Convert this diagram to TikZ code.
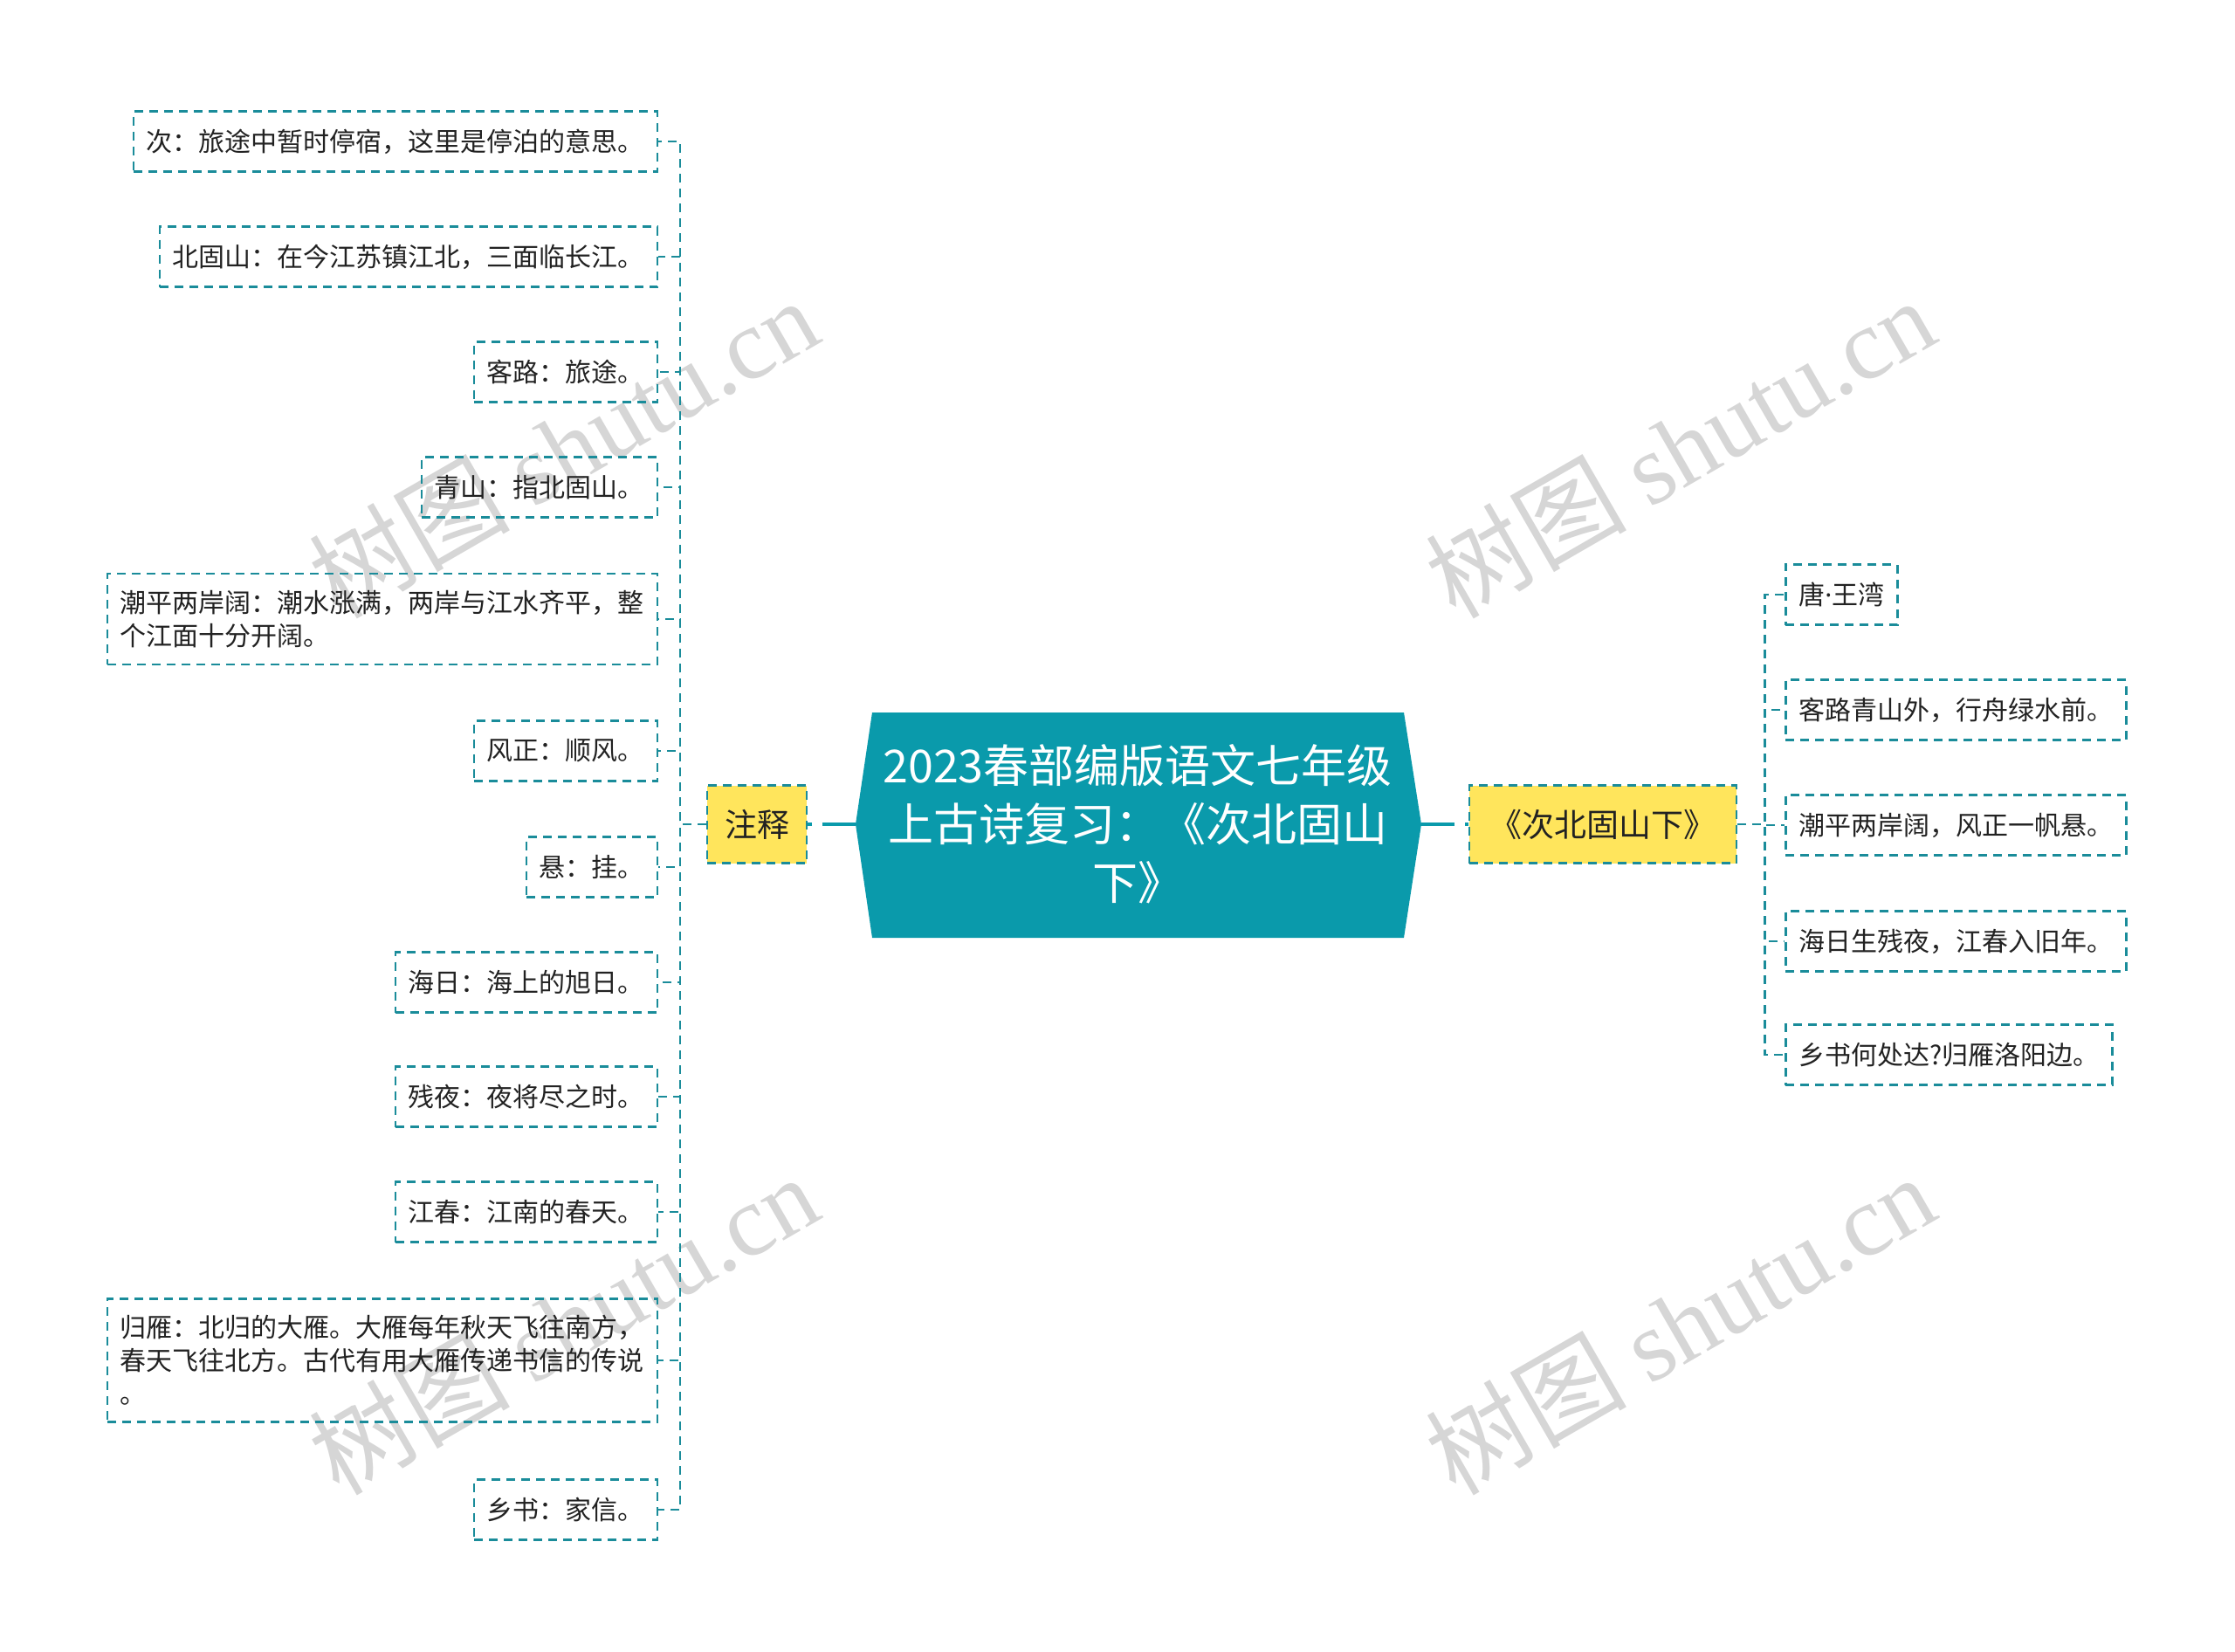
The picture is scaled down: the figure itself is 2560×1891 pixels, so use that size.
\documentclass[tikz,border=0pt]{standalone}
\usepackage{fontspec}
\setmainfont{Noto Sans CJK SC}
\newfontfamily\cjk{Noto Sans CJK SC}
\newfontfamily\latinsans{Noto Sans}
\newfontfamily\wmlatin{Liberation Serif}
\definecolor{teal1}{HTML}{0A9AAB}
\definecolor{dteal}{HTML}{1A8C9A}
\definecolor{yel}{HTML}{FFE55C}
\definecolor{txt}{HTML}{222222}
\definecolor{wmgray}{HTML}{D6D6D6}
\tikzset{
  leaf/.style={draw=dteal, line width=2.5pt, dash pattern=on 10pt off 7pt,
    font=\fontsize{30}{38}\selectfont, text=txt, inner xsep=15pt, inner ysep=19pt,
    minimum height=69pt, align=left},
  lleaf/.style={leaf, anchor=east},
  rleaf/.style={leaf, anchor=west},
  topic/.style={draw=dteal, fill=yel, line width=2.5pt, dash pattern=on 10pt off 7pt,
    font=\fontsize{37}{44}\selectfont, text=txt, minimum height=89pt, inner sep=0pt},
  conn/.style={draw=dteal, line width=2.5pt, dash pattern=on 10pt off 7pt},
  mainconn/.style={draw=teal1, line width=4.5pt, dash pattern=on 38pt off 12pt},
  wm/.style={text=wmgray, rotate=30, font=\fontsize{115}{120}\selectfont, inner sep=0pt}
}
\begin{document}
\begin{tikzpicture}[x=1pt, y=-1pt]
\fill[white] (0,0) rectangle (2560,1891);
\useasboundingbox (0,0) rectangle (2560,1891);

% watermarks
\node[wm] (wm1) at (645,512) {{\cjk 树图} {\wmlatin shutu.cn}};
\node[wm] (wm2) at (1924,512) {{\cjk 树图} {\wmlatin shutu.cn}};
\node[wm] (wm3) at (645,1516) {{\cjk 树图} {\wmlatin shutu.cn}};
\node[wm] (wm4) at (1924,1516) {{\cjk 树图} {\wmlatin shutu.cn}};

% root
\coordinate (rootL) at (980,944);
\coordinate (rootR) at (1628,944);
\fill[teal1] (999,816) -- (1608,816) -- (rootR) -- (1608,1074) -- (999,1074) -- (rootL) -- cycle;
\node[text=white, font=\fontsize{52}{67}\selectfont, align=center, inner sep=0pt] (root) at (1303,944)
  {2023春部编版语文七年级\\上古诗复习：《次北固山\\下》};

% topics
\node[topic, minimum width=114pt] (zhu) at (867,944) {注释};
\node[topic, minimum width=306pt] (poem) at (1836,944) {《次北固山下》};

\draw[mainconn] (rootL) -- (zhu.east);
\draw[mainconn] (rootR) -- (poem.west);

% left leaves
\node[lleaf] (L1) at (754,162) {次：旅途中暂时停宿，这里是停泊的意思。};
\node[lleaf] (L2) at (754,294) {北固山：在今江苏镇江北，三面临长江。};
\node[lleaf] (L3) at (754,426) {客路：旅途。};
\node[lleaf] (L4) at (754,558) {青山：指北固山。};
\node[lleaf] (L5) at (754,709) {潮平两岸阔：潮水涨满，两岸与江水齐平，整\\个江面十分开阔。};
\node[lleaf] (L6) at (754,860) {风正：顺风。};
\node[lleaf] (L7) at (754,993) {悬：挂。};
\node[lleaf] (L8) at (754,1125) {海日：海上的旭日。};
\node[lleaf] (L9) at (754,1256) {残夜：夜将尽之时。};
\node[lleaf] (L10) at (754,1388) {江春：江南的春天。};
\node[lleaf] (L11) at (754,1558) {归雁：北归的大雁。大雁每年秋天飞往南方，\\春天飞往北方。古代有用大雁传递书信的传说\\。};
\node[lleaf] (L12) at (754,1729) {乡书：家信。};

\foreach \n in {L1,L2,L3,L4,L5,L6,L7,L8,L9,L10,L11,L12}{
  \draw[conn] (zhu.west) -- ++(-30,0) |- (\n.east);
}

% right leaves
\node[rleaf] (R1) at (2044,681) {唐{\latinsans ·}王湾};
\node[rleaf] (R2) at (2044,813) {客路青山外，行舟绿水前。};
\node[rleaf] (R3) at (2044,945) {潮平两岸阔，风正一帆悬。};
\node[rleaf] (R4) at (2044,1078) {海日生残夜，江春入旧年。};
\node[rleaf] (R5) at (2044,1208) {乡书何处达?归雁洛阳边。};

\foreach \n in {R1,R2,R3,R4,R5}{
  \draw[conn] (poem.east) -- ++(31,0) |- (\n.west);
}
\end{tikzpicture}
\end{document}
